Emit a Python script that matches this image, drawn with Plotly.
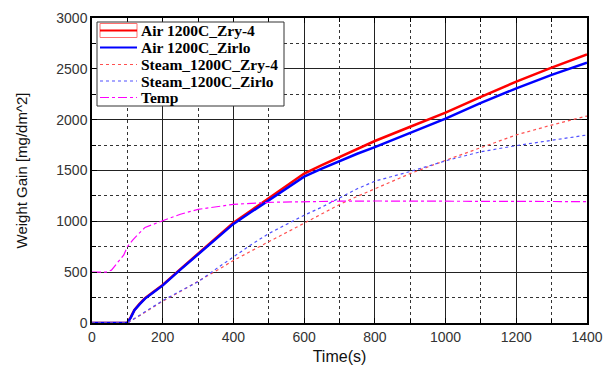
import plotly.graph_objects as go

# Time axis (s) for each series
t_air = [0, 100, 110, 120, 135, 150, 175, 200, 250, 300, 350, 400, 450, 500, 550, 600, 650, 700, 750, 800, 900, 1000, 1100, 1200, 1300, 1400]
air_zry4 = [0, 0, 60, 128, 190, 243, 310, 374, 530, 680, 832, 985, 1106, 1228, 1349, 1470, 1552, 1630, 1712, 1790, 1930, 2070, 2225, 2374, 2512, 2642]
air_zirlo = [0, 0, 55, 125, 185, 240, 305, 370, 525, 675, 825, 975, 1091, 1207, 1324, 1440, 1518, 1595, 1665, 1730, 1870, 2010, 2165, 2308, 2440, 2560]

t_steam = [0, 100, 150, 200, 250, 300, 350, 400, 450, 500, 550, 600, 650, 700, 750, 800, 900, 1000, 1100, 1200, 1300, 1400]
steam_zry4 = [0, 0, 105, 215, 310, 406, 510, 615, 710, 800, 890, 980, 1075, 1165, 1245, 1320, 1470, 1600, 1727, 1850, 1947, 2036]
steam_zirlo = [0, 0, 110, 220, 315, 406, 530, 650, 770, 880, 970, 1060, 1140, 1226, 1320, 1395, 1490, 1595, 1685, 1745, 1795, 1849]

t_temp = [0, 40, 55, 75, 90, 100, 115, 133, 150, 200, 250, 300, 400, 500, 600, 700, 800, 1000, 1200, 1400]
temp = [500, 500, 520, 603, 670, 750, 816, 882, 940, 1006, 1070, 1118, 1167, 1187, 1194, 1198, 1200, 1198, 1196, 1194]

names = ["Air 1200C_Zry-4", "Air 1200C_Zirlo", "Steam_1200C_Zry-4", "Steam_1200C_Zirlo", "Temp"]
colors = ["#ff0000", "#0000ff", "#ff5050", "#5050ff", "#ff00ff"]
widths = [2.5, 2.5, 1.2, 1.2, 1.2]
dashes = ["solid", "solid", "dot", "dot", "dashdot"]
xs = [t_air, t_air, t_steam, t_steam, t_temp]
ys = [air_zry4, air_zirlo, steam_zry4, steam_zirlo, temp]

fig = go.Figure()
for x, y, n, c, w, d in zip(xs, ys, names, colors, widths, dashes):
    fig.add_trace(go.Scatter(x=x, y=y, name=n, mode="lines",
                             line=dict(color=c, width=w, dash=d)))

axis_common = dict(
    showline=True, linecolor="black", linewidth=1.5, mirror="ticks",
    ticks="inside", ticklen=5, tickcolor="black",
    showgrid=True, gridcolor="#222222", gridwidth=1,
    zeroline=False, automargin=False,
    tickfont=dict(family="Arial, Liberation Sans", size=14, color="#333333"),
)

fig.update_xaxes(range=[0, 1400], dtick=200,
                 minor=dict(dtick=100, showgrid=True, griddash="dot", gridcolor="#333333", ticks="inside", ticklen=4, tickcolor="black"),
                 title=dict(text="Time(s)", font=dict(family="Arial, Liberation Sans", size=16, color="#111111"), standoff=8),
                 **axis_common)
fig.update_yaxes(range=[0, 3000], dtick=500,
                 minor=dict(dtick=250, showgrid=True, griddash="dot", gridcolor="#333333", ticks="inside", ticklen=4, tickcolor="black"),
                 title=dict(text="Weight Gain [mg/dm^2]", font=dict(family="Arial, Liberation Sans", size=15, color="#111111"), standoff=25),
                 **axis_common)

# custom legend (layout geometry in pixels of the plot area)
X0, X1, Y0, Y1 = 92.0, 587.0, 18.0, 323.0
def px(v):
    return (v - X0) / (X1 - X0)
def py(v):
    return (Y1 - v) / (Y1 - Y0)

shapes = [dict(type="rect", xref="paper", yref="paper", x0=px(97), x1=px(284), y0=py(106), y1=py(22),
               fillcolor="white", line=dict(color="#333333", width=1), layer="above")]
annotations = []
row_y = [30.5, 47.5, 64.5, 81, 97.5]
shapes.append(dict(type="rect", xref="paper", yref="paper", x0=px(100), x1=px(137), y0=py(row_y[0] + 7), y1=py(row_y[0] - 7),
                   line=dict(color="#ff7070", width=1), fillcolor="rgba(0,0,0,0)", layer="above"))
for i, n in enumerate(names):
    yy = py(row_y[i])
    shapes.append(dict(type="line", xref="paper", yref="paper", x0=px(100), x1=px(137), y0=yy, y1=yy,
                       line=dict(color=colors[i], width=2 if i < 2 else 1.2, dash=dashes[i]), layer="above"))
    annotations.append(dict(text=n, xref="paper", yref="paper", x=px(139), y=yy, xanchor="left", yanchor="middle",
                            showarrow=False,
                            font=dict(family="Liberation Serif, Times New Roman", size=15.5, color="black", weight="bold")))

fig.update_layout(
    width=603, height=365,
    margin=dict(l=92, r=16, t=18, b=42),
    paper_bgcolor="white", plot_bgcolor="white",
    showlegend=False,
    shapes=shapes, annotations=annotations,
)

fig.write_html("out.html")
